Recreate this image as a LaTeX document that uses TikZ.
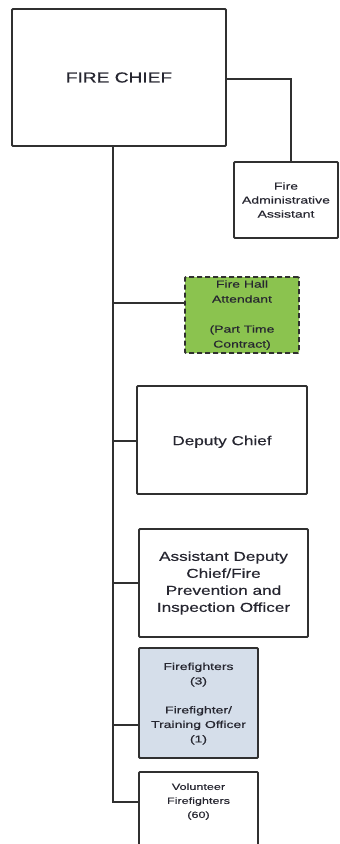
\documentclass[tikz,border=0pt]{standalone}
\usepackage{fontspec}
\setmainfont{Liberation Sans}
\newfontfamily\bigwide[FakeStretch=1.32,FakeBold=0.4]{Liberation Sans}
\newfontfamily\smallwide[FakeStretch=1.4,FakeBold=0.4]{Liberation Sans}
\definecolor{boxline}{HTML}{303030}
\definecolor{hallgreen}{HTML}{8BC34F}
\definecolor{ffblue}{HTML}{D5DEEA}
\definecolor{txt}{HTML}{262630}
\begin{document}
\begin{tikzpicture}[x=1pt,y=-1pt,
  orgbox/.style={draw=boxline,line width=1.8pt,rounded corners=1pt,inner sep=0pt,text=txt,align=center},
  link/.style={draw=boxline,line width=1.7pt}]
\useasboundingbox[fill=white] (0,0) rectangle (340,844);
\begin{scope}
\clip (0,0) rectangle (340,844);
% boxes
\node[orgbox,minimum width=214pt,minimum height=137pt,font=\bigwide\fontsize{14.5}{17}\selectfont] (chief) at (119,77.5) {FIRE CHIEF};
\node[orgbox,minimum width=104pt,minimum height=76pt,font=\smallwide\fontsize{10}{14}\selectfont] (admin) at (286,200) {Fire\\Administrative\\Assistant};
\node[orgbox,dashed,dash pattern=on 5pt off 3pt,fill=hallgreen,minimum width=114pt,minimum height=76pt,font=\smallwide\fontsize{10}{15}\selectfont] (hall) at (242,315) {Fire Hall\\Attendant\\[15pt](Part Time\\Contract)};
\node[orgbox,minimum width=170pt,minimum height=108pt,font=\bigwide\fontsize{13}{17}\selectfont] (deputy) at (222,440) {\\[-4pt]Deputy Chief};
\node[orgbox,minimum width=169pt,minimum height=108pt,font=\bigwide\fontsize{13}{17}\selectfont] (adc) at (223.5,583) {Assistant Deputy\\Chief/Fire\\Prevention and\\Inspection Officer};
\node[orgbox,fill=ffblue,minimum width=119pt,minimum height=110pt,font=\smallwide\fontsize{10}{14.5}\selectfont] (ff) at (198.5,703) {\\[-6pt]Firefighters\\(3)\\[14.5pt]Firefighter/\\Training Officer\\(1)};
\node[orgbox,minimum width=119pt,minimum height=90pt,font=\smallwide\fontsize{9}{14}\selectfont,anchor=north] (vol) at (198.5,771) {\\[2pt]Volunteer\\Firefighters\\(60)\\[28pt]};
% connectors
\coordinate (trunk) at (113,802);
\draw[link] (chief.south -| trunk) -- (trunk) -- (vol.west |- trunk);
\draw[link] (chief.east |- 0,79) -| (admin.north -| 291,0);
\draw[link] (trunk |- 0,303) -- (hall.west |- 0,303);
\draw[link] (trunk |- 0,441) -- (deputy.west |- 0,441);
\draw[link] (trunk |- 0,583) -- (adc.west |- 0,583);
\draw[link] (trunk |- 0,725) -- (ff.west |- 0,725);
\end{scope}
\end{tikzpicture}
\end{document}
